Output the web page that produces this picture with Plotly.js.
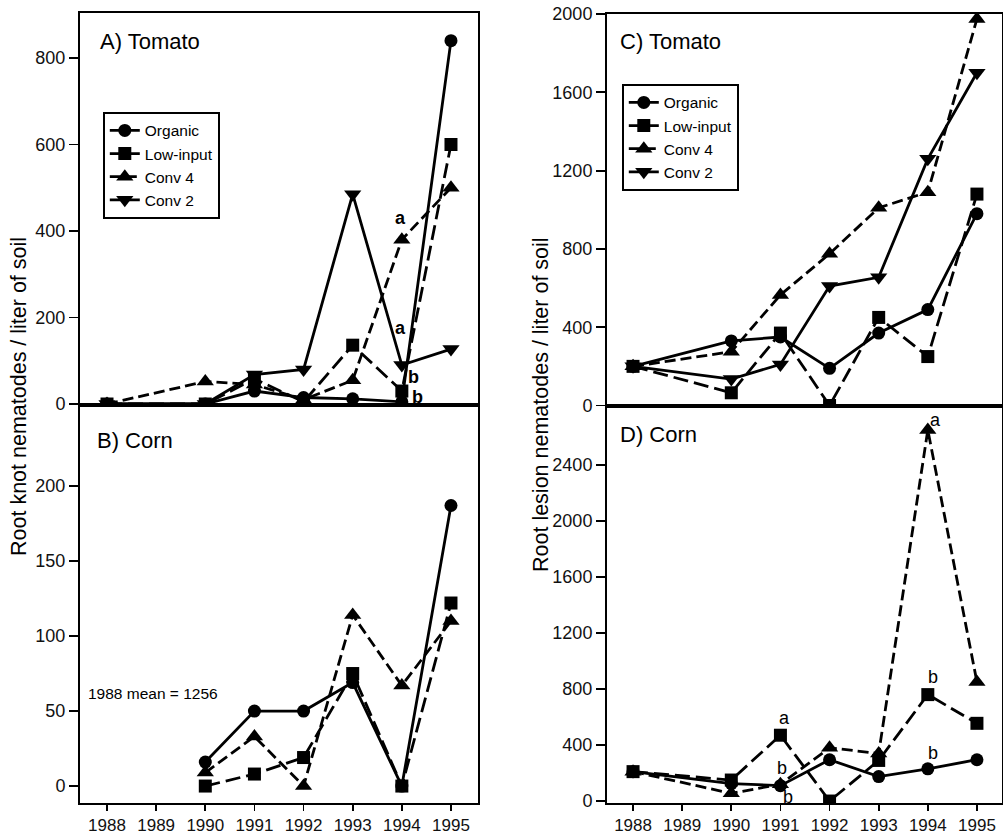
<!DOCTYPE html>
<html>
<head>
<meta charset="utf-8">
<script src="https://cdn.plot.ly/plotly-3.0.1.min.js"></script>
<style>html,body{margin:0;padding:0;background:#fff;}#chart{width:1003px;height:834px;}</style>
</head>
<body>
<div id="chart"></div>
<script>
// ---- data ----
const yearsAll = [1988, 1990, 1991, 1992, 1993, 1994, 1995];
const yearsCorn = [1990, 1991, 1992, 1993, 1994, 1995];
const yearTicks = [1988, 1989, 1990, 1991, 1992, 1993, 1994, 1995];
const seriesNames = ['Organic', 'Low-input', 'Conv 4', 'Conv 2'];

// A) Root knot, Tomato
const knotTomOrganic = [0, 0, 30, 15, 12, 5, 840];
const knotTomLow     = [0, 0, 58, 5, 136, 30, 600];
const knotTomConv4   = [0, 52, 45, 10, 55, 380, 500];
const knotTomConv2   = [0, 0, 68, 80, 485, 90, 127];
// B) Root knot, Corn (1990-1995)
const knotCornOrganic = [16, 50, 50, 69, 0, 187];
const knotCornLow     = [0, 8, 19, 75, 0, 122];
const knotCornConv4   = [9, 33, 0, 114, 67, 110];
// C) Root lesion, Tomato
const lesTomOrganic = [200, 330, 350, 190, 370, 490, 980];
const lesTomLow     = [200, 65, 370, 0, 450, 250, 1080];
const lesTomConv4   = [200, 275, 565, 775, 1010, 1090, 1975];
const lesTomConv2   = [200, 135, 210, 610, 655, 1260, 1700];
// D) Root lesion, Corn
const lesCornOrganic = [210, 125, 110, 295, 175, 230, 295];
const lesCornLow     = [210, 150, 470, 0, 290, 760, 555];
const lesCornConv4   = [210, 55, 120, 380, 340, 2650, 850];

const ticksA = [0, 200, 400, 600, 800];
const ticksB = [0, 50, 100, 150, 200];
const ticksC = [0, 400, 800, 1200, 1600, 2000];
const ticksD = [0, 400, 800, 1200, 1600, 2000, 2400];

// ---- styles ----
const F = 'Arial, "Liberation Sans", Helvetica, sans-serif';
const styles = {
  'Organic':   {symbol: 'circle', dash: 'solid', size: 13},
  'Low-input': {symbol: 'square', dash: '15px,6px', size: 13},
  'Conv 4':    {symbol: 'triangle-up', dash: '11px,5px', size: 15},
  'Conv 2':    {symbol: 'triangle-down', dash: 'solid', size: 15}
};
function tr(name, x, y, xa, ya, legend, show) {
  const s = styles[name];
  return {
    type: 'scatter', mode: 'lines+markers', name: name, x: x, y: y,
    xaxis: xa, yaxis: ya, legend: legend, showlegend: show,
    line: {color: '#000', width: 2.8, dash: s.dash},
    marker: {symbol: s.symbol, size: s.size, color: '#000'},
    hoverinfo: 'x+y+name'
  };
}
const data = [
  tr('Organic', yearsAll, knotTomOrganic, 'x', 'y', 'legend', true),
  tr('Low-input', yearsAll, knotTomLow, 'x', 'y', 'legend', true),
  tr('Conv 4', yearsAll, knotTomConv4, 'x', 'y', 'legend', true),
  tr('Conv 2', yearsAll, knotTomConv2, 'x', 'y', 'legend', true),
  tr('Organic', yearsCorn, knotCornOrganic, 'x2', 'y2', 'legend', false),
  tr('Low-input', yearsCorn, knotCornLow, 'x2', 'y2', 'legend', false),
  tr('Conv 4', yearsCorn, knotCornConv4, 'x2', 'y2', 'legend', false),
  tr('Organic', yearsAll, lesTomOrganic, 'x3', 'y3', 'legend2', true),
  tr('Low-input', yearsAll, lesTomLow, 'x3', 'y3', 'legend2', true),
  tr('Conv 4', yearsAll, lesTomConv4, 'x3', 'y3', 'legend2', true),
  tr('Conv 2', yearsAll, lesTomConv2, 'x3', 'y3', 'legend2', true),
  tr('Organic', yearsAll, lesCornOrganic, 'x4', 'y4', 'legend2', false),
  tr('Low-input', yearsAll, lesCornLow, 'x4', 'y4', 'legend2', false),
  tr('Conv 4', yearsAll, lesCornConv4, 'x4', 'y4', 'legend2', false)
];

const W = 1003, H = 834;
const px = v => v / W;
const py = v => 1 - v / H;

const axBase = {showline: true, mirror: true, linecolor: '#000', linewidth: 2,
  showgrid: false, zeroline: false, tickcolor: '#000', tickwidth: 1.8,
  tickfont: {family: F, size: 18, color: '#111'}};
function xa(domain, anchor, range, labels) {
  return Object.assign({}, axBase, {domain: domain, anchor: anchor, range: range,
    tickvals: yearTicks, ticktext: yearTicks.map(String),
    ticks: labels ? 'outside' : '', ticklen: 6, showticklabels: labels,
    tickfont: {family: F, size: 17, color: '#111'}});
}
function ya(domain, anchor, range, tv) {
  return Object.assign({}, axBase, {domain: domain, anchor: anchor, range: range,
    tickvals: tv, ticktext: tv.map(String), ticks: 'outside', ticklen: 9});
}

function ann(text, x, y, opts) {
  return Object.assign({text: text, x: x, y: y, xref: 'paper', yref: 'paper',
    showarrow: false, xanchor: 'left', yanchor: 'middle',
    font: {family: F, size: 22, color: '#000'}}, opts || {});
}
const small = (t, x, y, bold) => ann(bold ? '<b>' + t + '</b>' : t, px(x), py(y),
  {xanchor: 'center', font: {family: F, size: 18, color: '#000'}});

const legendStyle = {xanchor: 'left', yanchor: 'top',
  bgcolor: '#fff', bordercolor: '#000', borderwidth: 1.8,
  font: {family: F, size: 15.5, color: '#000'}, tracegroupgap: 0, itemwidth: 30};

const layout = {
  width: W, height: H,
  margin: {l: 0, r: 0, t: 0, b: 0},
  paper_bgcolor: '#fff', plot_bgcolor: '#fff',
  xaxis:  xa([px(80), px(478)], 'y', [1987.45, 1995.55], false),
  yaxis:  ya([py(405), py(13)], 'x', [-2.3, 904], ticksA),
  xaxis2: xa([px(80), px(478)], 'y2', [1987.45, 1995.55], true),
  yaxis2: ya([py(803), py(405)], 'x2', [-11.3, 254], ticksB),
  xaxis3: xa([px(607), px(1002)], 'y3', [1987.47, 1995.51], false),
  yaxis3: ya([py(406), py(14)], 'x3', [-2.5, 2000], ticksC),
  xaxis4: xa([px(607), px(1002)], 'y4', [1987.47, 1995.51], true),
  yaxis4: ya([py(803), py(406)], 'x4', [-14, 2821], ticksD),
  legend:  Object.assign({x: px(103), y: py(112)}, legendStyle),
  legend2: Object.assign({x: px(622), y: py(84)}, legendStyle),
  annotations: [
    ann('A) Tomato', px(98), py(41)),
    ann('B) Corn', px(95), py(440)),
    ann('C) Tomato', px(618), py(41)),
    ann('D) Corn', px(618), py(434)),
    ann('1988 mean = 1256', px(86), py(693), {font: {family: F, size: 15.5, color: '#000'}}),
    ann('Root knot nematodes / liter of soil', px(19), py(397),
      {xanchor: 'center', textangle: -90, font: {family: F, size: 21.5, color: '#000'}}),
    ann('Root lesion nematodes / liter of soil', px(541), py(405),
      {xanchor: 'center', textangle: -90, font: {family: F, size: 21.5, color: '#000'}}),
    small('a', 400, 218, true),
    small('a', 400, 328, true),
    small('b', 413, 377, true),
    small('b', 417, 397, true),
    small('a', 935, 420, false),
    small('a', 784, 718, false),
    small('b', 782, 768, false),
    small('b', 788, 797, false),
    small('b', 933, 677, false),
    small('b', 933, 753, false)
  ]
};

Plotly.newPlot('chart', data, layout, {staticPlot: true, displayModeBar: false});
</script>
</body>
</html>
